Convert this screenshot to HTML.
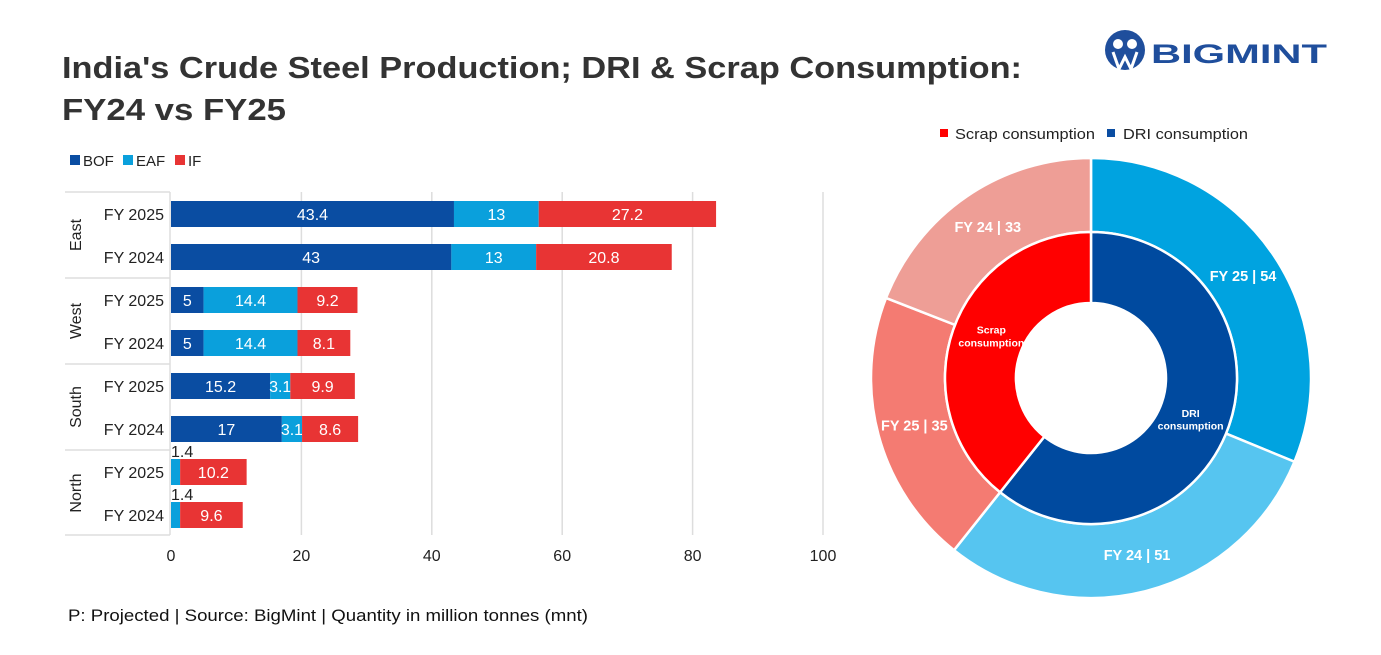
<!DOCTYPE html>
<html><head><meta charset="utf-8"><style>
body{margin:0;background:#fff;width:1381px;height:655px;overflow:hidden;font-family:"Liberation Sans",sans-serif}
svg{position:absolute;left:0;top:0}
</style></head><body>
<svg id="s" width="1381" height="655">
<text x="62" y="78" font-size="31" font-weight="bold" fill="#333" textLength="960" lengthAdjust="spacingAndGlyphs">India's Crude Steel Production; DRI &amp; Scrap Consumption:</text>
<text x="62" y="120" font-size="31" font-weight="bold" fill="#333" textLength="224" lengthAdjust="spacingAndGlyphs">FY24 vs FY25</text>
<g>
<circle cx="1125" cy="50" r="20" fill="#1f4e9c"/>
<circle cx="1118" cy="44" r="5" fill="#fff"/><circle cx="1132" cy="44" r="5" fill="#fff"/>
<path d="M1113 52 L1119 69 L1125 57 L1131 69 L1137 52" stroke="#fff" stroke-width="3" fill="none"/>
<text x="1151" y="63" font-size="27" font-weight="bold" fill="#1f4e9c" textLength="176" lengthAdjust="spacingAndGlyphs">BIGMINT</text>
</g>
<g>
<rect x="70" y="155" width="10" height="10" fill="#0a4da2"/><text x="83" y="166" font-size="15" fill="#222">BOF</text>
<rect x="123" y="155" width="10" height="10" fill="#0aa0dc"/><text x="136" y="166" font-size="15" fill="#222">EAF</text>
<rect x="175" y="155" width="10" height="10" fill="#e83434"/><text x="188" y="166" font-size="15" fill="#222">IF</text>
</g>
<g id="bars"></g>
<g id="donut"></g>
<g>
<rect x="940" y="129" width="8" height="8" fill="#f00"/><text x="955" y="139" font-size="15" fill="#222" textLength="140" lengthAdjust="spacingAndGlyphs">Scrap consumption</text>
<rect x="1107" y="129" width="8" height="8" fill="#0a4da2"/><text x="1123" y="139" font-size="15" fill="#222" textLength="125" lengthAdjust="spacingAndGlyphs">DRI consumption</text>
</g>
<text x="68" y="621" font-size="17" fill="#111" textLength="520" lengthAdjust="spacingAndGlyphs">P: Projected | Source: BigMint | Quantity in million tonnes (mnt)</text>
</svg>
<script>
const regions=["East","West","South","North"];
const years=["FY 2025","FY 2024"];
const bof=[43.4,43,5,5,15.2,17,0,0];
const eaf=[13,13,14.4,14.4,3.1,3.1,1.4,1.4];
const ifv=[27.2,20.8,9.2,8.1,9.9,8.6,10.2,9.6];
const xTicks=[0,20,40,60,80,100];
const donutInner=[105,68];
const donutInnerLabels=["DRI|consumption","Scrap|consumption"];
const donutOuter=[54,51,35,33];
const donutOuterLabels=["FY 25 | 54","FY 24 | 51","FY 25 | 35","FY 24 | 33"];
const NS="http://www.w3.org/2000/svg";
function mk(t,a,p){const e=document.createElementNS(NS,t);for(const k in a)e.setAttribute(k,a[k]);p.appendChild(e);return e;}
const X=v=>171+v*6.52;
const Y=i=>214+i*43;
const g=document.getElementById('bars');
xTicks.forEach(t=>{
 if(t>0){const l=mk('line',{x1:X(t),x2:X(t),y1:192,y2:535,stroke:'#ddd','stroke-width':1.5},g);
 }
 const tx=mk('text',{x:X(t),y:561,'font-size':16,fill:'#222','text-anchor':'middle'},g);tx.textContent=t;
 
});
mk('line',{x1:170,x2:170,y1:192,y2:535,stroke:'#ddd','stroke-width':1.5},g);
regions.forEach((r,k)=>{
 const y0=192+k*86;
 mk('line',{x1:65,x2:170,y1:y0,y2:y0,stroke:'#ddd','stroke-width':1.5},g);
 const t=mk('text',{x:0,y:0,'font-size':16,fill:'#222','text-anchor':'middle',transform:`translate(81,${y0+43}) rotate(-90)`},g);
 t.textContent=r;
});
mk('line',{x1:65,x2:170,y1:535,y2:535,stroke:'#ddd','stroke-width':1.5},g);
const cols=['#0a4da2','#0aa0dc','#e83434'];
const names=['bof','eaf','if'];
for(let i=0;i<8;i++){
 const y=Y(i);
 const yl=mk('text',{x:164,y:y+6,'font-size':16,fill:'#222','text-anchor':'end'},g);yl.textContent=years[i%2];
 
 let acc=0;
 [bof[i],eaf[i],ifv[i]].forEach((v,j)=>{
  if(v<=0)return;
  const r=mk('rect',{x:X(acc),y:y-13,width:X(acc+v)-X(acc),height:26,fill:cols[j]},g);
  
  
  const w=X(acc+v)-X(acc);
  const lb=mk('text',{x:w<20?X(acc):X(acc+v/2),y:w<20?y-15:y+6,'font-size':16,fill:w<20?'#222':'#fff','text-anchor':w<20?'start':'middle'},g);
  lb.textContent=v;
  acc+=v;
 });
}
const d=document.getElementById('donut');
const cx=1091,cy=378;
function arc(r0,r1,a0,a1){
 const p=(r,a)=>[cx+r*Math.sin(a),cy-r*Math.cos(a)];
 const L=a1-a0>Math.PI?1:0;
 const [x1,y1]=p(r1,a0),[x2,y2]=p(r1,a1),[x3,y3]=p(r0,a1),[x4,y4]=p(r0,a0);
 return `M${x1} ${y1}A${r1} ${r1} 0 ${L} 1 ${x2} ${y2}L${x3} ${y3}A${r0} ${r0} 0 ${L} 0 ${x4} ${y4}Z`;
}
function ring(vals,r0,r1,colors,labels,fs,lr,nm,rot){
 const tot=vals.reduce((a,b)=>a+b,0);let a=0;
 vals.forEach((v,i)=>{
  const a0=a/tot*2*Math.PI,a1=(a+v)/tot*2*Math.PI;
  const p=mk('path',{d:arc(r0,r1,a0,a1),fill:colors[i],stroke:'#fff','stroke-width':2.5},d);
  
  const m=(a0+a1)/2+rot;const lx=cx+lr*Math.sin(m),ly=cy-lr*Math.cos(m);
  const multi=labels[i].indexOf(' | ')<0;
  const lines=multi?labels[i].split('|'):[labels[i]];
  lines.forEach((s,k)=>{
   const t=mk('text',{x:lx,y:ly+fs*0.35+(k-(lines.length-1)/2)*fs*1.2,'font-size':fs,'font-weight':'bold',fill:'#fff','text-anchor':'middle'},d);
   t.textContent=s;
  });
  a+=v;
 });
}
ring(donutOuter,146,220,['#00a3e0','#56c5f0','#f47b72','#ee9e96'],donutOuterLabels,14.5,183,'outer',0);
ring(donutInner,75,146,['#004a9f','#ff0000'],donutInnerLabels,10.5,108,'inner',0.06);
</script>
</body></html>
